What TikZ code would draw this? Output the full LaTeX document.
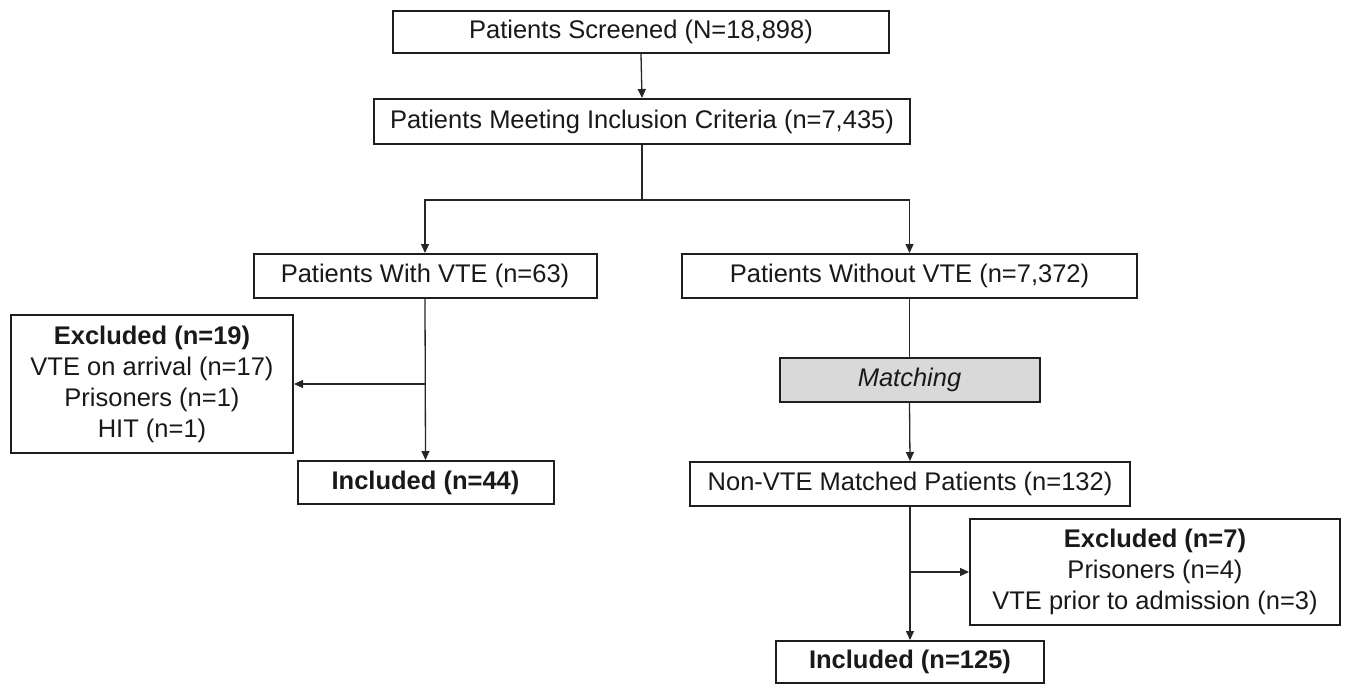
\documentclass[tikz,border=0pt]{standalone}
\usepackage{fontspec}
\setmainfont{Liberation Sans}
\usetikzlibrary{arrows.meta}
\definecolor{boxline}{HTML}{1E1E1E}
\definecolor{matchfill}{HTML}{D9D9D9}
\tikzset{
  box/.style={draw=boxline, line width=2pt, fill=white, inner sep=0pt, align=center,
    font=\fontsize{25.5}{31}\selectfont, text=black!90},
  conn/.style={draw=black!85, line width=1.3pt},
  arr/.style={conn, -{Triangle[length=9pt,width=8pt]}}
}
\begin{document}
\begin{tikzpicture}[x=1pt,y=-1pt]
\useasboundingbox (0,0) rectangle (1350,686);
\node[box, minimum width=496pt, minimum height=42pt] (screen) at (641,32) {Patients Screened (N=18,898)};
\node[box, minimum width=536pt, minimum height=45pt] (incl) at (642,121.5) {Patients Meeting Inclusion Criteria (n=7,435)};
\node[box, minimum width=343pt, minimum height=44pt] (vte) at (425,276) {Patients With VTE (n=63)};
\node[box, minimum width=455pt, minimum height=44pt] (novte) at (909.5,276) {Patients Without VTE (n=7,372)};
\node[box, minimum width=282pt, minimum height=138pt] (exa) at (152,384) {\textbf{Excluded (n=19)}\\VTE on arrival (n=17)\\Prisoners (n=1)\\HIT (n=1)};
\node[box, minimum width=256pt, minimum height=43pt] (inca) at (425.5,482.5) {\textbf{Included (n=44)}};
\node[box, fill=matchfill, minimum width=260pt, minimum height=44pt] (match) at (909.5,380) {\itshape Matching};
\node[box, minimum width=440pt, minimum height=44pt] (nonvte) at (910,484) {Non-VTE Matched Patients (n=132)};
\node[box, minimum width=370pt, minimum height=106pt] (exb) at (1155,572) {\textbf{Excluded (n=7)}\\Prisoners (n=4)\\VTE prior to admission (n=3)};
\node[box, minimum width=268pt, minimum height=42pt] (incb) at (910,662) {\textbf{Included (n=125)}};

\coordinate (split) at (642,200);
\coordinate (ja) at (vte.south |- exa.east);
\coordinate (jb) at (nonvte.south |- exb.west);

\draw[arr] (screen.south) -- (incl.north);
\draw[conn] (incl.south) -- (split);
\draw[arr] (split) -| (vte.north);
\draw[arr] (split) -| (novte.north);
\draw[arr] (vte.south) -- (inca.north);
\draw[arr] (ja) -- (exa.east);
\draw[conn] (novte.south) -- (match.north);
\draw[arr] (match.south) -- (nonvte.north);
\draw[arr] (nonvte.south) -- (nonvte.south |- incb.north);
\draw[arr] (jb) -- (exb.west);
\end{tikzpicture}
\end{document}
